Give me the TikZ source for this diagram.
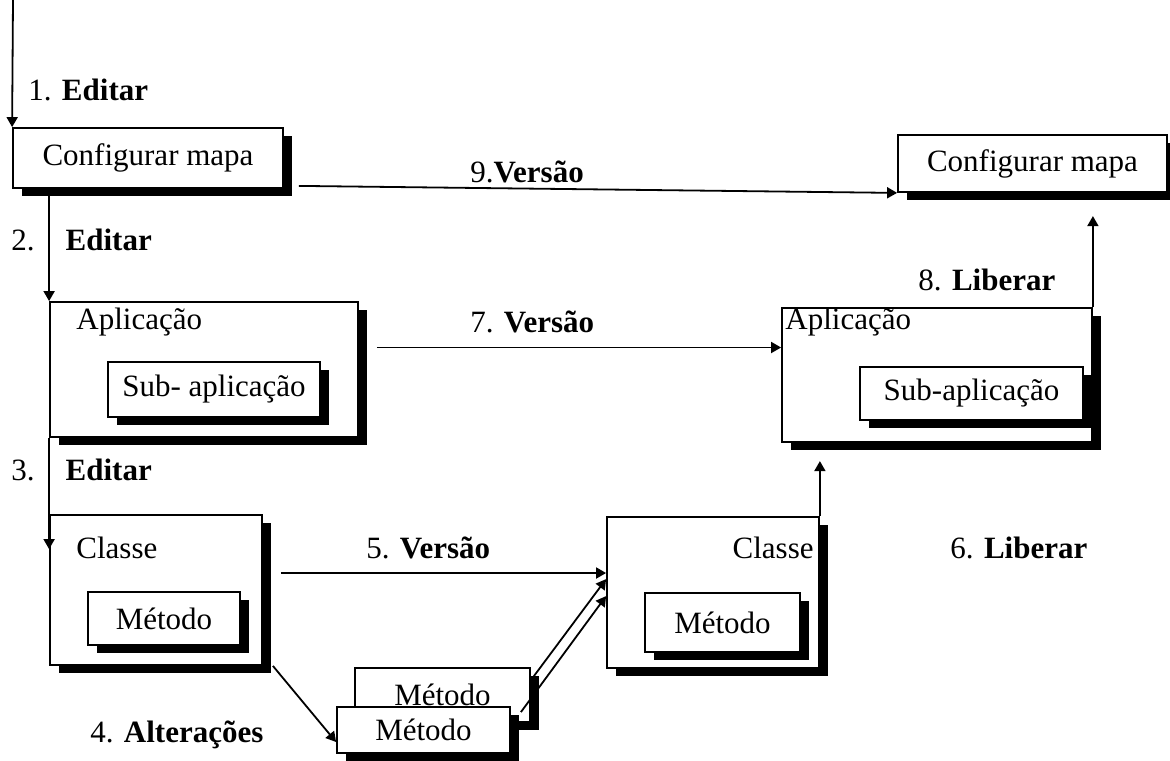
\documentclass[tikz,border=0pt]{standalone}
\usepackage{fontspec}
\setmainfont{Liberation Serif}
\usetikzlibrary{arrows.meta,calc,shadows}

\tikzset{
  box/.style={draw, fill=white, line width=0.9pt, inner sep=0pt,
    general shadow={fill=black, shadow xshift=4.5pt, shadow yshift=-4pt}},
  lbl/.style={inner sep=0pt, anchor=west},
  flow/.style={->, line width=0.9pt},
}

\begin{document}
\begin{tikzpicture}[x=0.5pt,y=-0.5pt,>={Triangle[length=5pt,width=5.5pt]},
    font=\fontsize{15.5}{18}\selectfont]
    \useasboundingbox (0,0) rectangle (1170,760);

    % map configuration
    \node[box, minimum width=135pt, minimum height=30pt] (cfgA) at (148,158) {Configurar mapa};
    \node[box, minimum width=134.5pt, minimum height=28.5pt] (cfgB) at (1032.5,163.5) {Configurar mapa};

    % applications
    \node[box, minimum width=154pt, minimum height=67.5pt] (appA) at (204,369.5) {};
    \node[lbl] (appAt) at (76,322) {Aplicação};
    \node[box, minimum width=106pt, minimum height=27.5pt] (subA) at (214,389.5) {Sub- aplicação};

    \node[box, minimum width=155pt, minimum height=67pt] (appB) at (937,375) {};
    \node[lbl] (appBt) at (785,322) {Aplicação};
    \node[box, minimum width=111.5pt, minimum height=26.5pt] (subB) at (971.5,393.5) {Sub-aplicação};

    % classes
    \node[box, minimum width=106pt, minimum height=75pt] (clsA) at (156,590) {};
    \node[lbl] (clsAt) at (76,548) {Classe};
    \node[box, minimum width=76pt, minimum height=26.5pt] (metA) at (164,618.5) {Método};

    \node[box, minimum width=106pt, minimum height=75.5pt] (clsB) at (713,592.5) {};
    \node[lbl, anchor=east] (clsBt) at (814,548) {Classe};
    \node[box, minimum width=77.5pt, minimum height=29.5pt] (metD) at (722.5,622.5) {Método};

    % changed methods
    \node[box, minimum width=87.5pt, minimum height=27pt] (metB) at (442.5,695) {Método};
    \node[box, minimum width=86.5pt, minimum height=23pt] (metC) at (423.5,730) {Método};

    % step labels
    \node[lbl] (l1) at (28,90) {1. \textbf{Editar}};
    \node[lbl] (l2) at (11,240) {2.\quad\textbf{Editar}};
    \node[lbl] (l3) at (11,470) {3.\quad\textbf{Editar}};
    \node[lbl] (l4) at (90,735) {4. \textbf{Alterações}};
    \node[lbl] (l5) at (366,548) {5. \textbf{Versão}};
    \node[lbl] (l6) at (950,548) {6. \textbf{Liberar}};
    \node[lbl] (l7) at (470,322) {7. \textbf{Versão}};
    \node[lbl] (l8) at (918,280) {8. \textbf{Liberar}};
    \node[lbl] (l9) at (470,172) {9.\textbf{Versão}};

    % flow
    \coordinate (start) at (13,0);
    \coordinate (rel6) at ($(clsB.north east)+(0,-55)$);
    \coordinate (rel8) at ($(appB.north east)+(0,-91)$);
    \draw[flow] (start) -- (cfgA.north west);
    \draw[flow] (cfgA.south -| appA.north west) -- (appA.north west);
    \draw[flow] (appA.south west) -- ($(clsA.north west)+(0,35)$);
    \draw[flow] ($(clsA.south east)+(10,0)$) -- ($(metC.west)+(0,12)$);
    \draw[flow] ($(metB.north east)+(3,9)$) -- ($(clsB.north west)+(0,63)$);
    \draw[flow] ($(metC.north east)+(10,6)$) -- ($(clsB.north west)+(0,80)$);
    \draw[flow] ($(clsA.east)+(18,-17)$) -- ($(clsA.east -| clsB.west)+(0,-17)$);
    \draw[flow] (clsB.north east) -- (rel6);
    \draw[flow] ($(appA.east)+(18,-22)$) -- ($(appA.east -| appB.west)+(0,-22)$);
    \draw[flow] (appB.north east) -- (rel8);
    \draw[flow] ($(cfgA.south east)+(15,-3)$) -- (cfgB.south west);
\end{tikzpicture}
\end{document}
